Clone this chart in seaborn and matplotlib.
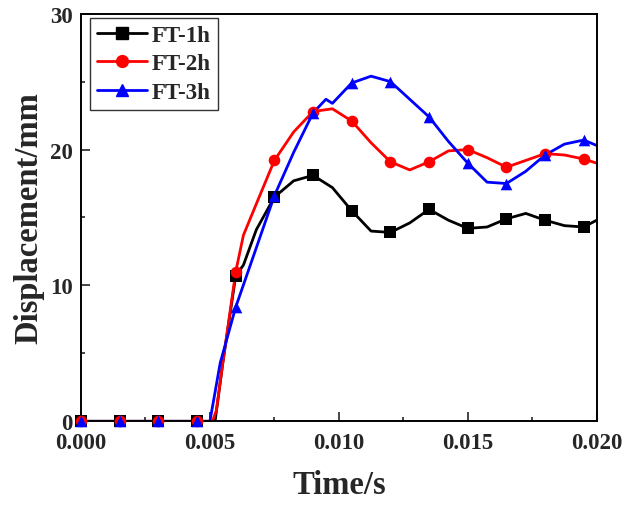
import pandas as pd
import seaborn as sns
import matplotlib.pyplot as plt
from matplotlib.lines import Line2D
from matplotlib.ticker import MultipleLocator, FormatStrFormatter

# marker points
time_marks = [0, 0.0015, 0.003, 0.0045, 0.006, 0.0075, 0.009, 0.0105,
              0.012, 0.0135, 0.015, 0.0165, 0.018, 0.0195]
ft1_marks = [0, 0, 0, 0, 10.7, 16.5, 18.1, 15.5, 13.9, 15.6, 14.2, 14.9, 14.8, 14.3]
ft2_marks = [0, 0, 0, 0, 11.0, 19.2, 22.8, 22.1, 19.1, 19.1, 20.0, 18.7, 19.7, 19.3]
ft3_marks = [0, 0, 0, 0, 8.4, 16.6, 22.7, 24.9, 25.0, 22.4, 19.0, 17.5, 19.6, 20.7]

# curve points
ft1_time = [0, 0.0015, 0.003, 0.0045, 0.0052, 0.0055, 0.006, 0.0063, 0.0068, 0.0075,
            0.00825, 0.009, 0.00975, 0.0105, 0.01125, 0.012, 0.01275, 0.0135, 0.01425,
            0.015, 0.01575, 0.0165, 0.01725, 0.018, 0.01875, 0.0195, 0.020]
ft1_curve = [0, 0, 0, 0, 0, 4.3, 10.7, 11.5, 14.1, 16.5,
             17.7, 18.1, 17.2, 15.5, 14.0, 13.9, 14.6, 15.6, 14.8,
             14.2, 14.3, 14.9, 15.3, 14.8, 14.4, 14.3, 14.8]

ft2_time = [0, 0.0015, 0.003, 0.0045, 0.0051, 0.00525, 0.0055, 0.006, 0.0063, 0.0068,
            0.0075, 0.00825, 0.009, 0.00975, 0.0105, 0.01125, 0.012, 0.01275, 0.0135,
            0.01425, 0.015, 0.01575, 0.0165, 0.01725, 0.018, 0.01875, 0.0195, 0.020]
ft2_curve = [0, 0, 0, 0, 0, 0.8, 4.3, 11.0, 13.7, 16.0,
             19.2, 21.3, 22.8, 23.0, 22.1, 20.5, 19.1, 18.5, 19.1,
             19.9, 20.0, 19.4, 18.7, 19.2, 19.7, 19.6, 19.3, 19.0]

ft3_time = [0, 0.0015, 0.003, 0.0045, 0.005, 0.0054, 0.006, 0.00675, 0.0075, 0.00825,
            0.009, 0.0095, 0.00975, 0.0105, 0.01125, 0.012, 0.01275, 0.0135, 0.01425,
            0.015, 0.01575, 0.0165, 0.01725, 0.018, 0.01875, 0.0195, 0.020]
ft3_curve = [0, 0, 0, 0, 0, 4.3, 8.4, 12.5, 16.6, 19.8,
             22.7, 23.7, 23.4, 24.9, 25.4, 25.0, 23.7, 22.4, 20.6,
             19.0, 17.6, 17.5, 18.4, 19.6, 20.4, 20.7, 20.3]

labels = ["FT-1h", "FT-2h", "FT-3h"]
colors = ["black", "red", "blue"]
markers = ["s", "o", "^"]

sns.set_style("ticks")
plt.rcParams['font.family'] = ['Liberation Serif', 'DejaVu Serif']
plt.rcParams['font.weight'] = 'bold'

fig = plt.figure(figsize=(6.24, 5.06), dpi=100)
ax = fig.add_axes([0.1298, 0.1654, 0.8264, 0.8056])

series = [
    (ft1_time, ft1_curve, ft1_marks),
    (ft2_time, ft2_curve, ft2_marks),
    (ft3_time, ft3_curve, ft3_marks),
]

handles = []
for (t, c, m), lab, col, mk in zip(series, labels, colors, markers):
    sns.lineplot(x=t, y=c, color=col, linewidth=2.0, estimator=None, ax=ax)
    sns.scatterplot(x=time_marks, y=m, color=col, marker=mk, s=70,
                    linewidth=0, ax=ax, zorder=3, clip_on=False)
    handles.append(Line2D([], [], color=col, marker=mk, markersize=8.5,
                          linewidth=2.0, label=lab))

ax.set_xlim(0, 0.020)
ax.set_ylim(0, 30)
ax.xaxis.set_major_locator(MultipleLocator(0.005))
ax.xaxis.set_minor_locator(MultipleLocator(0.0025))
ax.xaxis.set_major_formatter(FormatStrFormatter('%.3f'))
ax.yaxis.set_major_locator(MultipleLocator(10))
ax.yaxis.set_minor_locator(MultipleLocator(5))

ax.tick_params(which='both', direction='in', top=False, right=False,
               width=1.2, labelsize=16.5)
ax.tick_params(axis='x', pad=8)
ax.tick_params(axis='y', pad=6)
ax.tick_params(which='major', length=6.5)
ax.tick_params(which='minor', length=3)
for lab in ax.get_xticklabels() + ax.get_yticklabels():
    lab.set_fontweight('bold')
for sp in ax.spines.values():
    sp.set_linewidth(1.4)
    sp.set_color('black')

ax.set_xlabel("Time/s", fontsize=23.5, fontweight='bold', labelpad=11)
ax.set_ylabel("Displacement/mm", fontsize=23.5, fontweight='bold', labelpad=4)

leg = ax.legend(handles=handles, loc='upper left', bbox_to_anchor=(0.0175, 0.989),
                borderaxespad=0, fancybox=False, frameon=True,
                handlelength=2.2, labelspacing=0.32, borderpad=0.3,
                handletextpad=0.2, prop={'weight': 'bold', 'size': 16.5})
leg.get_frame().set_edgecolor('black')
leg.get_frame().set_linewidth(1.0)

fig.savefig("out.png", dpi=100)
